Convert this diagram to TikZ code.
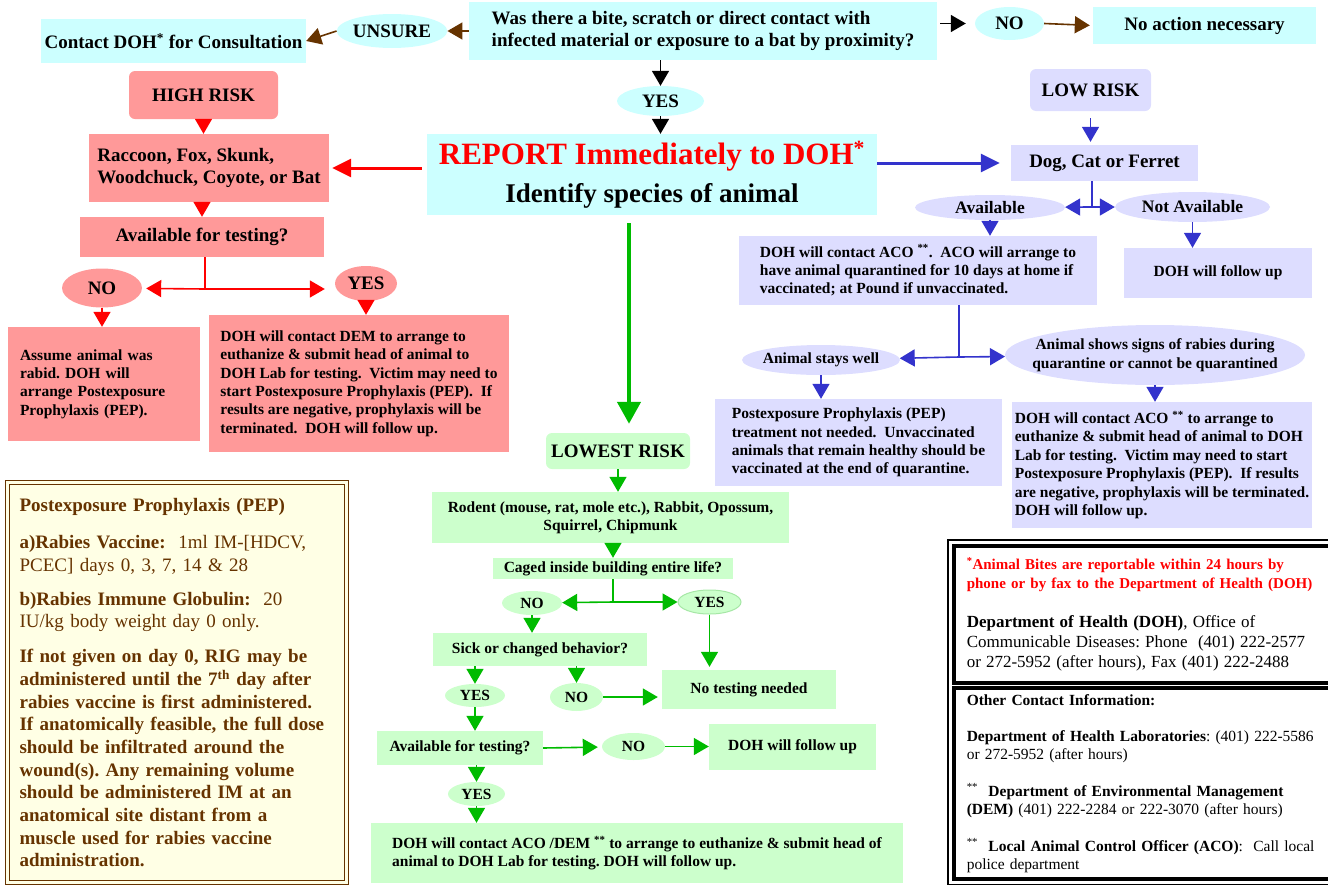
\documentclass[tikz,border=0pt]{standalone}
\usepackage{fontspec}
\setmainfont{Liberation Serif}
\usetikzlibrary{shapes.geometric,arrows.meta,fit}
\frenchspacing

\definecolor{qcyan}{RGB}{204,255,255}
\definecolor{hired}{RGB}{255,153,153}
\definecolor{lowblue}{RGB}{221,221,255}
\definecolor{lowgreen}{RGB}{204,255,204}
\definecolor{bluearr}{RGB}{51,51,204}
\definecolor{greenarr}{RGB}{0,187,0}
\definecolor{brownarr}{RGB}{102,51,0}
\definecolor{pepfill}{RGB}{255,255,229}
\definecolor{pepbrown}{RGB}{102,51,0}

\begin{document}
\begin{tikzpicture}[x=1pt, y=-1pt,
    flat/.style={rectangle, inner sep=0pt},
    cbox/.style={flat, fill=qcyan},
    hbox/.style={flat, fill=hired},
    lbox/.style={flat, fill=lowblue},
    gbox/.style={flat, fill=lowgreen},
    oval/.style={ellipse, inner sep=0pt},
    lg/.style={font=\fontsize{19}{22}\selectfont\bfseries},
    md/.style={font=\fontsize{17.5}{20}\selectfont\bfseries},
    sm/.style={font=\fontsize{15.5}{18.4}\selectfont\bfseries},
    wire/.style={line width=1.6pt},
    arr/.style={line width=1.6pt, -{Triangle[length=15pt,width=17pt]}},
    bigarr/.style={line width=3pt, -{Triangle[length=19pt,width=18pt]}},
    hugearr/.style={line width=4.5pt, -{Triangle[length=22pt,width=23pt]}},
    pepbox/.style={draw=pepbrown, line width=1.2pt, double=pepfill, double distance=2.5pt,
      fill=pepfill, text=pepbrown, font=\fontsize{19}{22.7}\selectfont},
    infobox/.style={draw=black, line width=3.5pt, fill=white, font=\fontsize{15.5}{18}\selectfont}]
    \useasboundingbox (0,0) rectangle (1328,884);

    % question at the top
    \node[cbox, lg, minimum width=468, minimum height=58, align=left] (bite) at (703,31)
      {Was there a bite, scratch or direct contact with\\ infected material or exposure to a bat by proximity?};
    \node[oval, lg, fill=qcyan, minimum width=110, minimum height=34] (unsure) at (392,31) {UNSURE};
    \node[cbox, lg, minimum width=265, minimum height=44] (consult) at (173.5,41) {Contact DOH\textsuperscript{*} for Consultation};
    \node[oval, lg, fill=qcyan, minimum width=69, minimum height=33] (no) at (1009.5,23.5) {NO};
    \node[cbox, lg, minimum width=223, minimum height=37] (noact) at (1204.5,25.5) {No action necessary};
    \node[oval, lg, fill=qcyan, minimum width=87, minimum height=30] (yes) at (660.5,101) {YES};
    \node[cbox, font=\fontsize{27}{38}\selectfont\bfseries, minimum width=450, minimum height=81, align=center] (report) at (652,174.5)
      {\textcolor{red}{\fontsize{31}{38}\selectfont REPORT Immediately to DOH\textsuperscript{*}}\\ Identify species of animal};

    \draw[arr, brownarr] (bite.west) -- (unsure.east);
    \draw[arr, brownarr] (unsure.west) -- (consult.east);
    \draw[arr, black, shorten <=3pt, shorten >=9pt] (bite.east |- no) -- (no.west);
    \draw[arr, brownarr, shorten >=3pt] (no.east) -- (noact.west);
    \draw[arr, black] (yes.north |- bite.south) -- (yes.north);
    \draw[arr, black] (yes.south) -- (yes.south |- report.north);

    % high risk side
    \node[hbox, lg, rounded corners=6pt, minimum width=149, minimum height=48] (high) at (203.5,95) {HIGH RISK};
    \node[hbox, lg, minimum width=240, minimum height=68, align=left] (wild) at (209,168)
      {Raccoon, Fox, Skunk,\\ Woodchuck, Coyote, or Bat};
    \node[hbox, lg, minimum width=244, minimum height=40] (hask) at (202,237) {Available for testing?};
    \node[oval, lg, fill=hired, minimum width=80, minimum height=39] (hno) at (102,288) {NO};
    \node[oval, lg, fill=hired, minimum width=62, minimum height=35] (hyes) at (366,283.5) {YES};
    \node[hbox, sm, text width=168, inner xsep=12pt, minimum height=114, align=left] (assume) at (104,384)
      {Assume animal was\\ rabid. DOH will\\ arrange Postexposure\\ Prophylaxis (PEP).};
    \node[hbox, sm, minimum width=300, minimum height=137, align=left] (dem) at (359,383.5)
      {DOH will contact DEM to arrange to\\ euthanize \& submit head of animal to\\ DOH Lab for testing.\ \ Victim may need to\\
       start Postexposure Prophylaxis (PEP).\ \ If\\ results are negative, prophylaxis will be\\ terminated.\ \ DOH will follow up.};
    \coordinate (hsplit) at (205,289);

    \draw[arr, red] (high.south) -- (high.south |- wild.north);
    \draw[bigarr, red, shorten <=5pt, shorten >=3pt] (report.west |- wild.east) -- (wild.east);
    \draw[arr, red] (hask.north |- wild.south) -- (hask.north);
    \draw[wire, red] (hsplit |- hask.south) -- (hsplit);
    \draw[arr, red, shorten >=4pt] (hsplit) -- (hno);
    \draw[arr, red, shorten >=10pt] (hsplit) -- (hyes.west |- hsplit);
    \draw[arr, red] (hno.south) -- (hno.south |- assume.north);
    \draw[arr, red] (hyes.south) -- (hyes.south |- dem.north);

    % low risk side
    \node[lbox, lg, rounded corners=6pt, minimum width=121, minimum height=42] (low) at (1090.5,90) {LOW RISK};
    \node[lbox, lg, minimum width=187, minimum height=36] (pet) at (1104.5,163) {Dog, Cat or Ferret};
    \node[oval, md, fill=lowblue, minimum width=150, minimum height=25] (avail) at (990,207.5) {Available};
    \node[oval, md, fill=lowblue, minimum width=155, minimum height=30] (navail) at (1192.5,207) {Not Available};
    \node[lbox, sm, minimum width=358, minimum height=69, align=left] (aco) at (918,270.5)
      {DOH will contact ACO \textsuperscript{**}.\ \ ACO will arrange to\\ have animal quarantined for 10 days at home if\\ vaccinated; at Pound if unvaccinated.};
    \node[lbox, sm, minimum width=188, minimum height=50] (lfollow) at (1218,273) {DOH will follow up};
    \node[oval, sm, fill=lowblue, minimum width=158, minimum height=30, inner xsep=-4pt] (well) at (821,360) {Animal stays well};
    \node[oval, sm, fill=lowblue, minimum width=300, minimum height=60, inner xsep=-40pt, align=center] (signs) at (1155,355)
      {Animal shows signs of rabies during\\ quarantine or cannot be quarantined};
    \node[lbox, sm, minimum width=287, minimum height=87, align=left] (nopep) at (858.5,442.5)
      {Postexposure Prophylaxis (PEP)\\ treatment not needed.\ \ Unvaccinated\\ animals that remain healthy should be\\ vaccinated at the end of quarantine.};
    \node[lbox, sm, minimum width=300, minimum height=126, align=left] (euth) at (1162,465)
      {DOH will contact ACO \textsuperscript{**} to arrange to\\ euthanize \& submit head of animal to DOH\\ Lab for testing.\ \ Victim may need to start\\
       Postexposure Prophylaxis (PEP).\ \ If results\\ are negative, prophylaxis will be terminated.\\ DOH will follow up.};
    \coordinate (lsplit) at (1092,207);
    \coordinate (qsplit) at (959,357);

    \draw[arr, bluearr, shorten <=7pt, shorten >=3pt] (low.south) -- (low.south |- pet.north);
    \draw[bigarr, bluearr, shorten >=11pt] (report.east |- pet.west) -- (pet.west);
    \draw[wire, bluearr] (lsplit |- pet.south) -- (lsplit);
    \draw[arr, bluearr] (lsplit) -- (avail);
    \draw[arr, bluearr] (lsplit) -- (navail);
    \draw[arr, bluearr] (avail.south) -- (avail.south |- aco.north);
    \draw[arr, bluearr] (navail.south) -- (navail.south |- lfollow.north);
    \draw[wire, bluearr] (qsplit |- aco.south) -- (qsplit);
    \draw[arr, bluearr] (qsplit) -- (well);
    \draw[arr, bluearr] (qsplit) -- (signs);
    \draw[arr, bluearr] (well.south) -- (well.south |- nopep.north);
    \draw[arr, bluearr] (signs.south) -- (signs.south |- euth.north);

    % lowest risk
    \node[gbox, lg, rounded corners=6pt, minimum width=144, minimum height=36] (lowest) at (618,451) {LOWEST RISK};
    \node[gbox, sm, minimum width=357, minimum height=51, align=center] (rodent) at (610.5,517.5)
      {Rodent (mouse, rat, mole etc.), Rabbit, Opossum,\\ Squirrel, Chipmunk};
    \node[gbox, sm, minimum width=240, minimum height=21] (caged) at (613,568.5) {Caged inside building entire life?};
    \node[oval, sm, fill=lowgreen, minimum width=60, minimum height=24] (cno) at (532,603) {NO};
    \node[oval, sm, fill=lowgreen, draw=greenarr!35, line width=1pt, minimum width=63, minimum height=24] (cyes) at (709.5,602) {YES};
    \node[gbox, sm, minimum width=214, minimum height=33] (sick) at (540,649.5) {Sick or changed behavior?};
    \node[oval, sm, fill=lowgreen, minimum width=60, minimum height=23] (syes) at (475,695.5) {YES};
    \node[oval, sm, fill=lowgreen, minimum width=53, minimum height=28] (sno) at (576.5,697) {NO};
    \node[gbox, sm, minimum width=174, minimum height=39] (notest) at (749,689.5) {No testing needed};
    \node[gbox, sm, minimum width=166, minimum height=34] (gask) at (460,748) {Available for testing?};
    \node[oval, sm, fill=lowgreen, minimum width=63, minimum height=27] (gno) at (633.5,746.5) {NO};
    \node[gbox, sm, minimum width=167, minimum height=46] (gfollow) at (792.5,747) {DOH will follow up};
    \node[oval, sm, fill=lowgreen, minimum width=57, minimum height=24] (gyes) at (476.5,794) {YES};
    \node[gbox, sm, minimum width=532, minimum height=60, align=left] (gend) at (637,853)
      {DOH will contact ACO /DEM \textsuperscript{**} to arrange to euthanize \& submit head of\\ animal to DOH Lab for testing. DOH will follow up.};
    \coordinate (csplit) at (613,602);

    \draw[hugearr, greenarr] ([xshift=-23pt, yshift=-8pt]report.south) -- ([xshift=11pt, yshift=9pt]lowest.north);
    \draw[arr, greenarr] (lowest.south) -- (lowest.south |- rodent.north);
    \draw[arr, greenarr] (caged.north |- rodent.south) -- (caged.north);
    \draw[wire, greenarr] (csplit |- caged.south) -- (csplit);
    \draw[arr, greenarr] (csplit) -- (cno);
    \draw[arr, greenarr] (csplit) -- (cyes);
    \draw[arr, greenarr] (cno.south) -- (cno.south |- sick.north);
    \draw[arr, greenarr, shorten >=3pt] (cyes.south) -- (cyes.south |- notest.north);
    \draw[arr, greenarr] (syes.north |- sick.south) -- (syes.north);
    \draw[arr, greenarr] (sno.north |- sick.south) -- (sno.north);
    \draw[arr, greenarr, shorten >=4pt] (sno.east) -- (notest.west |- sno.east);
    \draw[arr, greenarr] (syes.south) -- (syes.south |- gask.north);
    \draw[arr, greenarr, shorten >=4pt] (gask.east) -- (gno);
    \draw[arr, greenarr] (gno) -- (gfollow.west |- gno);
    \draw[arr, greenarr] (gyes.north |- gask.south) -- (gyes.north);
    \draw[arr, greenarr] (gyes.south) -- (gyes.south |- gend.north);

    % PEP note
    \node[pepbox, anchor=north west, text width=315, inner xsep=12pt, minimum height=400, align=left] (pep) at (7,482)
      {\textbf{Postexposure Prophylaxis (PEP)}\par\vspace{15pt}
       \textbf{a)Rabies Vaccine:}\ \ 1ml IM-[HDCV,\\ PCEC] days 0, 3, 7, 14 \& 28\par\vspace{11pt}
       \textbf{b)Rabies Immune Globulin:}\ \ 20\\ IU/kg body weight day 0 only.\par\vspace{12pt}
       \bfseries If not given on day 0, RIG may be\\ administered until the 7\textsuperscript{th} day after\\
       rabies vaccine is first administered.\\ If anatomically feasible, the full dose\\ should be infiltrated around the\\
       wound(s). Any remaining volume\\ should be administered IM at an\\ anatomical site distant from a\\
       muscle used for rabies vaccine\\ administration.};

    % contacts
    \node[infobox, anchor=north west, text width=356, inner xsep=13pt, minimum height=137, align=left] (info) at (952,544)
      {{\color{red}\fontsize{15}{19}\selectfont\bfseries \textsuperscript{*}Animal Bites are reportable within 24 hours by\\
        phone or by fax to the Department of Health (DOH)\par}
       \vspace{19pt}
       {\fontsize{17}{20}\selectfont\textbf{Department of Health (DOH)}, Office of\\ Communicable Diseases: Phone\ \ (401) 222-2577\\
        or 272-5952 (after hours), Fax (401) 222-2488\par}};
    \node[infobox, anchor=north west, text width=356, inner xsep=13pt, minimum height=191, align=left] (other) at (952,686)
      {\textbf{Other Contact Information:}\par\vspace{18pt}
       \textbf{Department of Health Laboratories}: (401) 222-5586\\ or 272-5952 (after hours)\par\vspace{19pt}
       \textsuperscript{**}\ \ \textbf{Department of Environmental Management}\\ \textbf{(DEM)} (401) 222-2284 or 222-3070 (after hours)\par\vspace{19pt}
       \textsuperscript{**}\ \ \textbf{Local Animal Control Officer (ACO)}:\ \ Call local\\ police department};
    \node[draw=black, line width=1.5pt, inner sep=4pt, fit=(info)(other)] (contacts) {};
\end{tikzpicture}
\end{document}
